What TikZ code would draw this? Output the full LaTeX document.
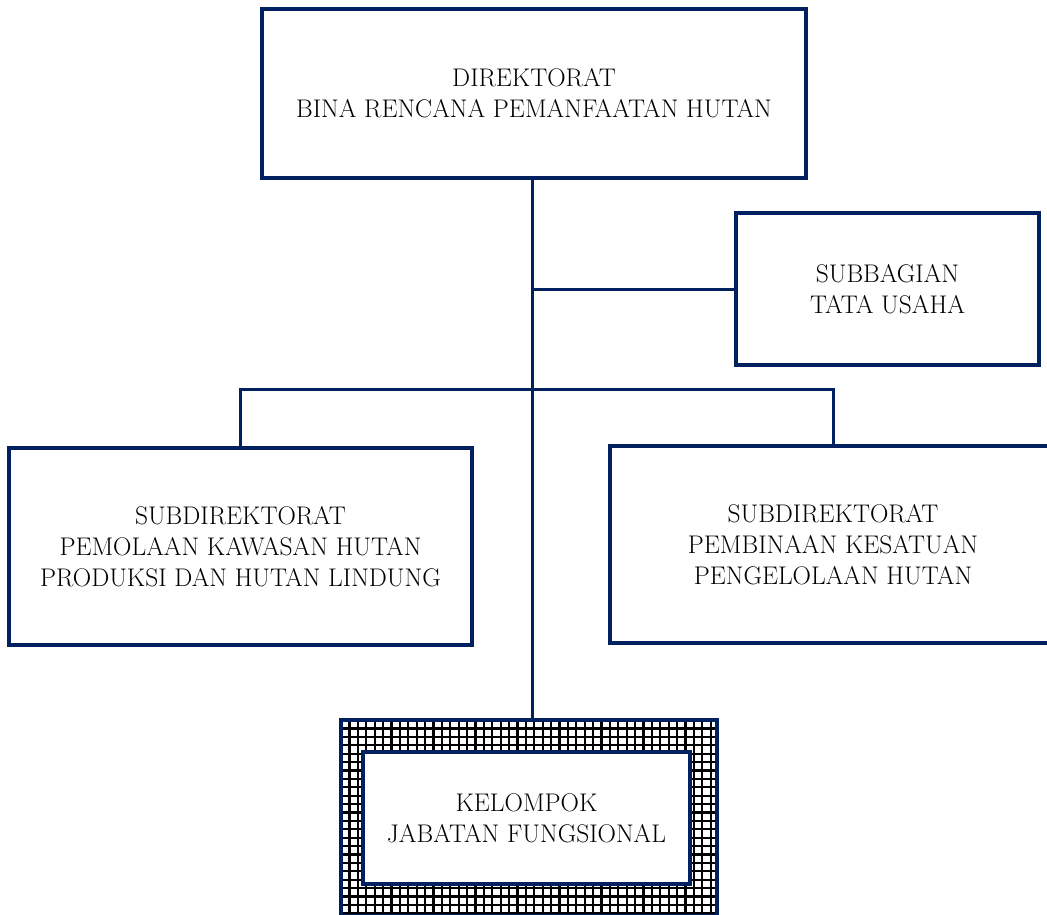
\documentclass[tikz,border=0pt]{standalone}
\usepackage{xcolor}
\definecolor{navy}{HTML}{002060}
\tikzset{
  unit/.style={draw=navy, line width=3.5pt, fill=white, align=center,
               font=\fontsize{25.5}{31}\selectfont, inner sep=0pt},
  link/.style={navy, line width=3pt},
}

\begin{document}
\begin{tikzpicture}[x=1pt,y=-1pt]
  \useasboundingbox (0,0) rectangle (1047,914);
  % hatched frame behind the functional group
  \begin{scope}
    \clip (341,720) rectangle (717,916);
    \foreach \k in {0,...,45} {
      \draw[line width=2.2pt] (341+8.4*\k,720) -- (341+8.4*\k,916);
      \draw[line width=2.2pt] (341,720+8.4*\k) -- (717,720+8.4*\k);
    }
  \end{scope}
  \node[unit, fill=none, minimum width=376, minimum height=196] (jfo) at (529,818) {};
  \node[unit, minimum width=544, minimum height=169] (dir) at (534,93.5)
    {DIREKTORAT\\BINA RENCANA PEMANFAATAN HUTAN};
  \node[unit, minimum width=303, minimum height=152] (tu) at (887.5,289)
    {SUBBAGIAN\\TATA USAHA};
  \node[unit, minimum width=463, minimum height=197] (p1) at (240.5,546.5)
    {SUBDIREKTORAT\\PEMOLAAN KAWASAN HUTAN\\PRODUKSI DAN HUTAN LINDUNG};
  \node[unit, minimum width=446, minimum height=197] (p2) at (833,544.5)
    {SUBDIREKTORAT\\PEMBINAAN KESATUAN\\PENGELOLAAN HUTAN};
  \node[unit, minimum width=327, minimum height=132] (jf) at (526.5,818)
    {KELOMPOK\\JABATAN FUNGSIONAL};
  \coordinate (bar) at (532,389);
  \draw[link] (dir.south -| bar) -- (bar |- jfo.north);
  \draw[link] (bar |- tu.west) -- (tu.west);
  \draw[link] (p1.north) -- (p1.north |- bar) -| (p2.north);
\end{tikzpicture}
\end{document}
